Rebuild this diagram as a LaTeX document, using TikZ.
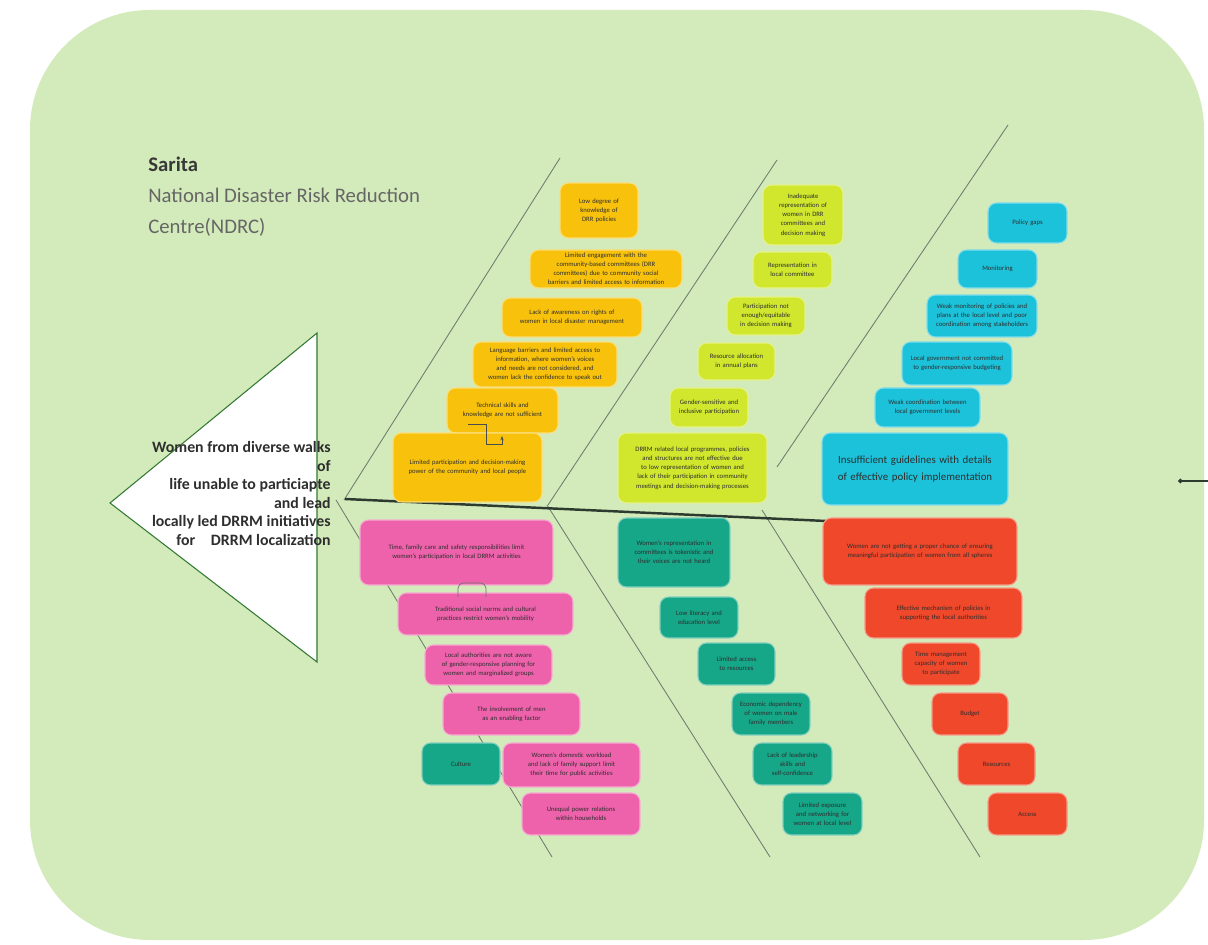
\documentclass[tikz,border=0pt]{standalone}
\usepackage{fontspec}
\setmainfont{Carlito}
\usetikzlibrary{arrows.meta}

\definecolor{pagegreen}{RGB}{211,235,186}
\definecolor{spinegrey}{RGB}{45,58,48}
\definecolor{ribgrey}{RGB}{112,126,112}
\definecolor{amber}{RGB}{248,194,12}
\definecolor{lime}{RGB}{208,231,46}
\definecolor{aqua}{RGB}{28,194,218}
\definecolor{rose}{RGB}{238,98,172}
\definecolor{jade}{RGB}{22,166,136}
\definecolor{tomato}{RGB}{240,72,42}

\newcommand{\cardfont}{\fontsize{3.8}{5.2}\selectfont\hyphenpenalty=10000\exhyphenpenalty=10000}

\tikzset{
  card/.style={rounded corners=0.17cm, fill=#1, draw=#1!55!white, line width=0.6pt,
    align=center, font=\cardfont, text=black!82, inner sep=0pt},
  sz/.style 2 args={minimum width=#1cm, minimum height=#2cm, text width=#1cm-0.3cm},
  rib/.style={draw=ribgrey, line width=0.5pt},
}

\begin{document}
\begin{tikzpicture}[x=0.02cm, y=-0.02cm]
  \useasboundingbox (0,0) rectangle (1208,945);
  \fill[pagegreen, rounded corners=2.4cm] (30,10) rectangle (1204,940);

  % heading
  \node[anchor=base west, inner sep=0, font=\fontsize{11.8}{14}\selectfont\bfseries, text=black!78] (name) at (148,172) {Sarita};
  \node[anchor=base west, inner sep=0, font=\fontsize{11.8}{14}\selectfont, text=black!60] (org) at (148,203) {National Disaster Risk Reduction};
  \node[anchor=base west, inner sep=0, font=\fontsize{11.8}{14}\selectfont, text=black!60] (orgb) at (148,234) {Centre(NDRC)};

  % ribs
  \coordinate (u1a) at (344,500); \coordinate (u1b) at (560,158);
  \coordinate (u2a) at (548,505); \coordinate (u2b) at (777,160);
  \coordinate (u3a) at (777,467); \coordinate (u3b) at (1008,125);
  \coordinate (d1a) at (336,500); \coordinate (d1b) at (552,857);
  \coordinate (d2a) at (547,505); \coordinate (d2b) at (770,857);
  \coordinate (d3a) at (762,510); \coordinate (d3b) at (980,857);
  \foreach \r in {u1,u2,u3,d1,d2,d3}
    \path[rib] (\r a) -- (\r b);

  % spine
  \coordinate (tail) at (345,499);
  \coordinate (head) at (826,521);
  \draw[spinegrey, line width=1.4pt] (tail) -- (head);

  % head triangle
  \coordinate (tip) at (110,503);
  \coordinate (ttop) at (317,333);
  \coordinate (tbot) at (317,662);
  \draw[fill=white, draw=black!55!green!60!gray, line width=0.6pt] (tip) -- (ttop) -- (tbot) -- cycle;
  \node[anchor=east, align=right, inner sep=0, font=\fontsize{9}{10.6}\selectfont\bfseries, text=black!82] (problem) at (331,493.5)
    {Women from diverse walks\\of\\life unable to particiapte\\and lead\\locally led DRRM initiatives\\for\quad DRRM localization};

  % amber branch
  \node[card=amber, sz={1.56}{1.10}] (y1) at (599,210.5) {Low degree of knowledge of DRR policies};
  \node[card=amber, sz={3.04}{0.76}] (y2) at (606,269) {Limited engagement with the community-based committees (DRR committees) due to community social barriers and limited access to information};
  \node[card=amber, sz={2.80}{0.78}] (y3) at (572,317.5) {Lack of awareness on rights of women in local disaster management};
  \node[card=amber, sz={2.88}{0.90}] (y4) at (545,364.5) {Language barriers and limited access to information, where women's voices and needs are not considered, and women lack the confidence to speak out};
  \node[card=amber, sz={2.22}{0.90}] (y5) at (502.5,410.5) {Technical skills and knowledge are not sufficient};
  \node[card=amber, sz={2.98}{1.38}] (y6) at (467.5,467.5) {Limited participation and decision-making power of the community and local people};
  \draw[black!70, line width=0.4pt, -{Stealth[length=2.5pt]}] (468,424) -- (486,424) -- (486,444) -- (502,444) -- (502,436);

  % lime branch
  \node[card=lime, sz={1.60}{1.20}] (l1) at (803,215) {Inadequate representation of women in DRR committees and decision making};
  \node[card=lime, sz={1.58}{0.72}] (l2) at (792.5,270) {Representation in local committee};
  \node[card=lime, sz={1.56}{0.76}] (l3) at (766,316) {Participation not enough/equitable in decision making};
  \node[card=lime, sz={1.54}{0.74}] (l4) at (736.5,361.5) {Resource allocation in annual plans};
  \node[card=lime, sz={1.56}{0.78}] (l5) at (709,407.5) {Gender-sensitive and inclusive participation};
  \node[card=lime, sz={2.98}{1.40}] (l6) at (692.5,468) {DRRM related local programmes, policies and structures are not effective due to low representation of women and lack of their participation in community meetings and decision-making processes};

  % aqua branch
  \node[card=aqua, sz={1.58}{0.80}] (c1) at (1027.5,223) {Policy gaps};
  \node[card=aqua, sz={1.58}{0.76}] (c2) at (997.5,269) {Monitoring};
  \node[card=aqua, sz={2.20}{0.84}] (c3) at (982,316) {Weak monitoring of policies and plans at the local level and poor coordination among stakeholders};
  \node[card=aqua, sz={2.20}{0.86}] (c4) at (957,363.5) {Local government not committed to gender-responsive budgeting};
  \node[card=aqua, sz={2.10}{0.78}] (c5) at (927.5,407.5) {Weak coordination between local government levels};
  \node[card=aqua, sz={3.72}{1.44}, font=\fontsize{6.2}{9.4}\selectfont] (c6) at (915,469) {Insufficient guidelines with details of effective policy implementation};

  % rose branch
  \node[card=rose, sz={3.86}{1.30}] (p1) at (456.5,552.5) {Time, family care and safety responsibilities limit women's participation in local DRRM activities};
  \node[card=rose, sz={3.50}{0.84}] (p2) at (485.5,614) {Traditional social norms and cultural practices restrict women's mobility};
  \draw[black!55, line width=0.4pt, rounded corners=3pt] (458,597) -- (458,583) -- (486,583) -- (486,597);
  \node[card=rose, sz={2.54}{0.80}] (p3) at (488.5,665) {Local authorities are not aware of gender-responsive planning for women and marginalized groups};
  \node[card=rose, sz={2.74}{0.84}] (p4) at (511.5,714) {The involvement of men as an enabling factor};
  \node[card=jade, sz={1.56}{0.84}] (t0) at (461,764) {Culture};
  \node[card=rose, sz={2.74}{0.88}] (p5) at (571.5,765) {Women's domestic workload and lack of family support limit their time for public activities};
  \node[card=rose, sz={2.36}{0.84}] (p6) at (581,814) {Unequal power relations within households};

  % jade branch
  \node[card=jade, sz={2.24}{1.38}] (t1) at (674,552.5) {Women's representation in committees is tokenistic and their voices are not heard};
  \node[card=jade, sz={1.56}{0.82}] (t2) at (699,617.5) {Low literacy and education level};
  \node[card=jade, sz={1.54}{0.84}] (t3) at (736.5,664) {Limited access to resources};
  \node[card=jade, sz={1.56}{0.84}] (t4) at (771,714) {Economic dependency of women on male family members};
  \node[card=jade, sz={1.58}{0.84}] (t5) at (792.5,764) {Lack of leadership skills and self-confidence};
  \node[card=jade, sz={1.58}{0.84}] (t6) at (822.5,814) {Limited exposure and networking for women at local level};

  % tomato branch
  \node[card=tomato, sz={3.88}{1.34}] (r1) at (920,551.5) {Women are not getting a proper chance of ensuring meaningful participation of women from all spheres};
  \node[card=tomato, sz={3.14}{1.00}] (r2) at (943.5,613) {Effective mechanism of policies in supporting the local authorities};
  \node[card=tomato, sz={1.56}{0.84}] (r3) at (941,664) {Time management capacity of women to participate};
  \node[card=tomato, sz={1.52}{0.84}] (r4) at (970,714) {Budget};
  \node[card=tomato, sz={1.54}{0.84}] (r5) at (996.5,764) {Resources};
  \node[card=tomato, sz={1.58}{0.84}] (r6) at (1027.5,814) {Access};

  % stub at the right edge
  \coordinate (stubl) at (1178,481);
  \coordinate (stubr) at (1208,481);
  \draw[spinegrey, line width=0.6pt, {Circle[length=2.6pt]}-] (stubl) -- (stubr);
\end{tikzpicture}
\end{document}
